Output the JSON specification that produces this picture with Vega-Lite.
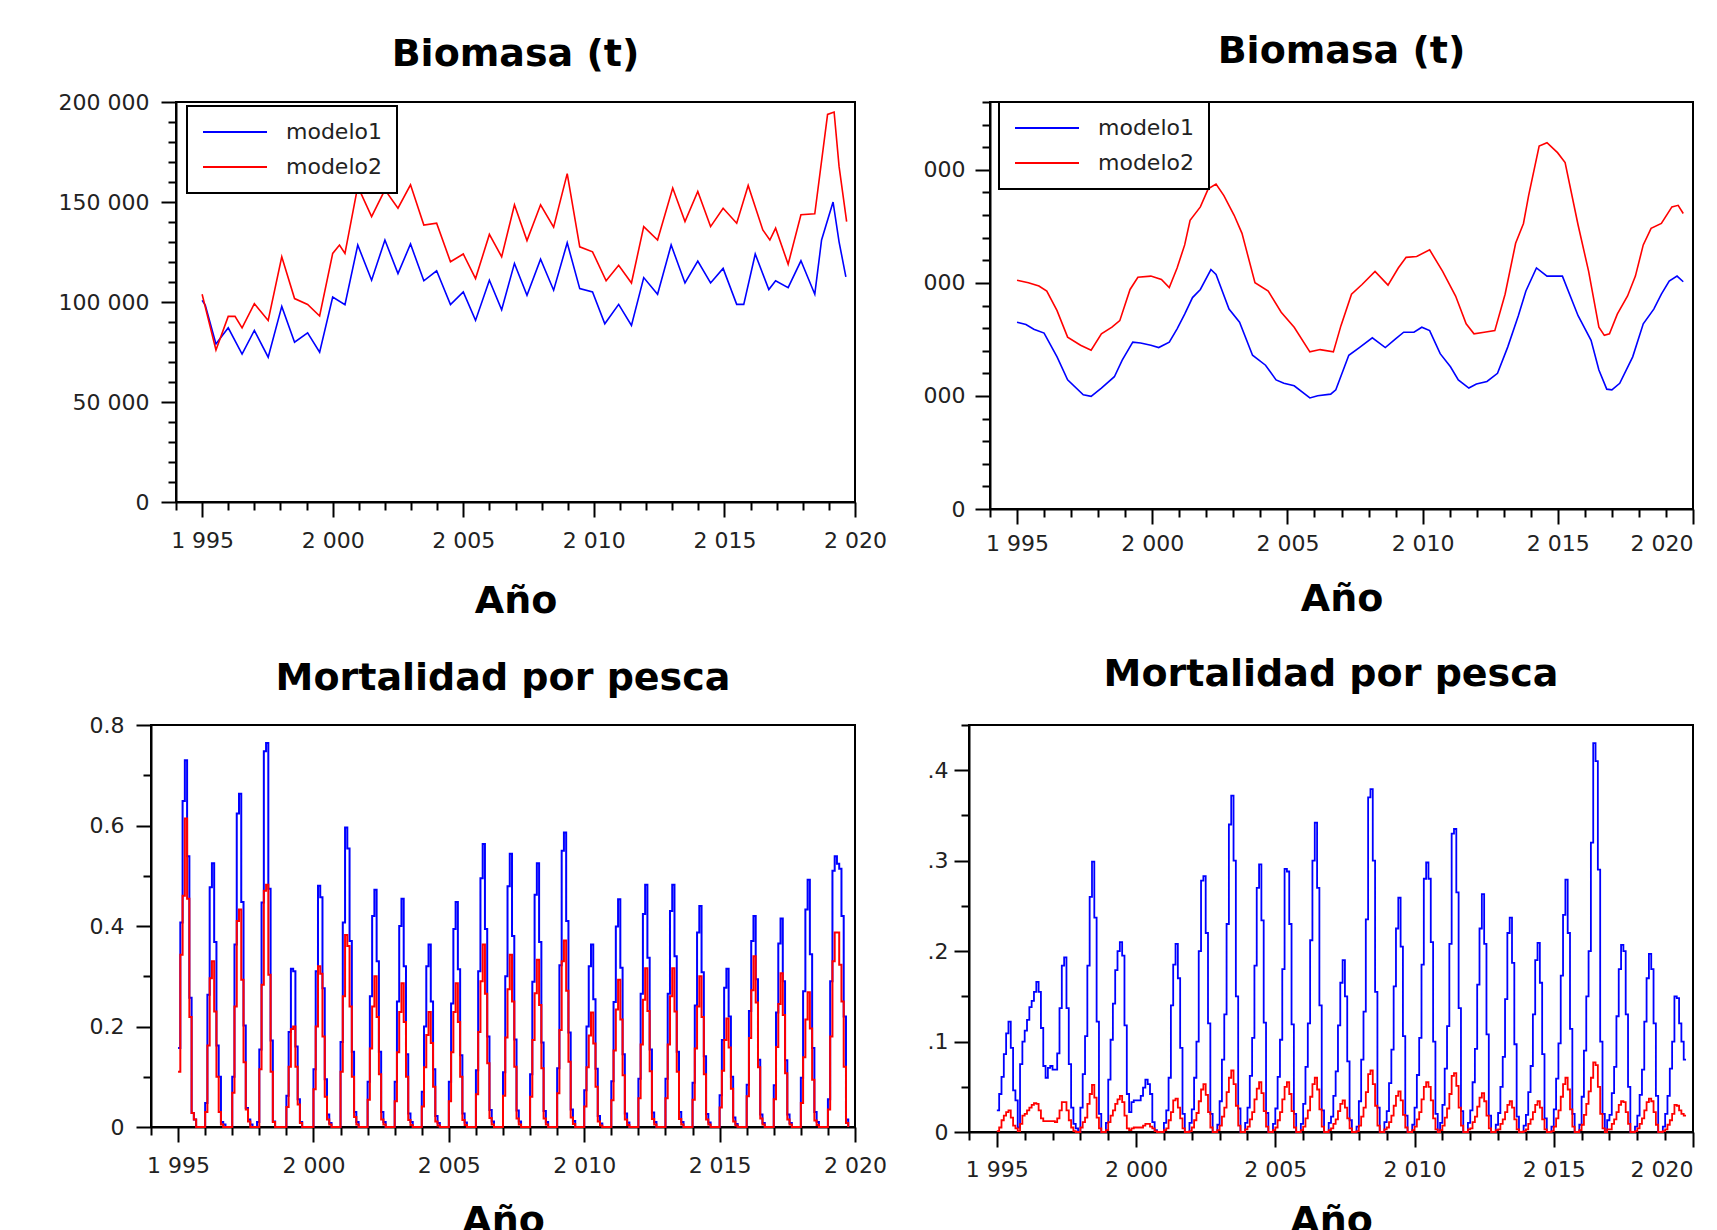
{
"$schema": "https://vega.github.io/schema/vega-lite/v6.json",
"padding": {"left": 44, "top": 32, "right": 25, "bottom": 0},
"background": "white",
"config": {
  "view": {"stroke": "black", "strokeWidth": 2},
  "font": "DejaVu Sans",
  "axis": {"labelFont": "DejaVu Sans", "labelFontSize": 22, "labelColor": "#222222", "titleFont": "DejaVu Sans", "titleFontSize": 38, "titleFontWeight": "bold", "titleColor": "black", "domainColor": "black", "domainWidth": 2, "tickColor": "black", "tickWidth": 2, "grid": false, "labelOverlap": false, "labelFlush": false},
  "title": {"font": "DejaVu Sans", "fontSize": 38, "fontWeight": "bold", "color": "black", "baseline": "alphabetic", "anchor": "middle", "frame": "group"},
  "legend": {"strokeColor": "black", "strokeWidth": 2, "fillColor": "white", "padding": 15, "symbolType": "stroke", "symbolSize": 4096, "symbolStrokeWidth": 2, "clipHeight": 22, "labelFont": "DejaVu Sans", "labelFontSize": 22, "labelColor": "#222222", "labelOffset": 18, "rowPadding": 13, "cornerRadius": 0}
},
"datasets": {
"tl": [
{"t":1995,"s":"modelo1","v":100800},{"t":1995.12,"s":"modelo1","v":98500},{"t":1995.53,"s":"modelo1","v":79000},{"t":1996,"s":"modelo1","v":87100},{"t":1996.53,"s":"modelo1","v":74000},{"t":1997,"s":"modelo1","v":85800},{"t":1997.53,"s":"modelo1","v":72400},{"t":1998.05,"s":"modelo1","v":97800},{"t":1998.54,"s":"modelo1","v":79900},{"t":1999.04,"s":"modelo1","v":84600},{"t":1999.5,"s":"modelo1","v":74900},{"t":2000,"s":"modelo1","v":102500},{"t":2000.47,"s":"modelo1","v":98700},{"t":2000.96,"s":"modelo1","v":128500},{"t":2001.49,"s":"modelo1","v":110900},{"t":2002,"s":"modelo1","v":131000},{"t":2002.5,"s":"modelo1","v":114200},{"t":2002.98,"s":"modelo1","v":129000},{"t":2003.49,"s":"modelo1","v":110600},{"t":2003.98,"s":"modelo1","v":115600},{"t":2004.51,"s":"modelo1","v":98700},{"t":2005,"s":"modelo1","v":105000},{"t":2005.47,"s":"modelo1","v":90800},{"t":2006,"s":"modelo1","v":110900},{"t":2006.47,"s":"modelo1","v":96100},{"t":2006.96,"s":"modelo1","v":119300},{"t":2007.44,"s":"modelo1","v":103400},{"t":2007.96,"s":"modelo1","v":121400},{"t":2008.46,"s":"modelo1","v":105900},{"t":2008.98,"s":"modelo1","v":129600},{"t":2009.46,"s":"modelo1","v":106700},{"t":2009.95,"s":"modelo1","v":105000},{"t":2010.42,"s":"modelo1","v":89100},{"t":2010.95,"s":"modelo1","v":98800},{"t":2011.44,"s":"modelo1","v":88300},{"t":2011.91,"s":"modelo1","v":112200},{"t":2012.44,"s":"modelo1","v":103900},{"t":2012.96,"s":"modelo1","v":128500},{"t":2013.49,"s":"modelo1","v":109500},{"t":2013.98,"s":"modelo1","v":120400},{"t":2014.47,"s":"modelo1","v":109500},{"t":2014.95,"s":"modelo1","v":116800},{"t":2015.47,"s":"modelo1","v":98800},{"t":2015.74,"s":"modelo1","v":98800},{"t":2016.18,"s":"modelo1","v":124000},{"t":2016.7,"s":"modelo1","v":106200},{"t":2016.96,"s":"modelo1","v":110600},{"t":2017.44,"s":"modelo1","v":107200},{"t":2017.93,"s":"modelo1","v":120600},{"t":2018.46,"s":"modelo1","v":103900},{"t":2018.72,"s":"modelo1","v":131000},{"t":2019.16,"s":"modelo1","v":150000},{"t":2019.39,"s":"modelo1","v":130100},{"t":2019.65,"s":"modelo1","v":112600},
{"t":1995,"s":"modelo2","v":103900},{"t":1995.53,"s":"modelo2","v":76000},{"t":1996,"s":"modelo2","v":92800},{"t":1996.26,"s":"modelo2","v":92800},{"t":1996.53,"s":"modelo2","v":87100},{"t":1997,"s":"modelo2","v":99200},{"t":1997.53,"s":"modelo2","v":90800},{"t":1998.05,"s":"modelo2","v":122600},{"t":1998.54,"s":"modelo2","v":101700},{"t":1999.04,"s":"modelo2","v":98800},{"t":1999.5,"s":"modelo2","v":93000},{"t":2000,"s":"modelo2","v":124300},{"t":2000.26,"s":"modelo2","v":128500},{"t":2000.47,"s":"modelo2","v":124300},{"t":2000.96,"s":"modelo2","v":157800},{"t":2001.49,"s":"modelo2","v":142700},{"t":2002,"s":"modelo2","v":156100},{"t":2002.5,"s":"modelo2","v":146900},{"t":2002.98,"s":"modelo2","v":158600},{"t":2003.49,"s":"modelo2","v":138500},{"t":2003.98,"s":"modelo2","v":139400},{"t":2004.51,"s":"modelo2","v":120100},{"t":2005,"s":"modelo2","v":124000},{"t":2005.47,"s":"modelo2","v":111700},{"t":2006,"s":"modelo2","v":133800},{"t":2006.47,"s":"modelo2","v":122600},{"t":2006.96,"s":"modelo2","v":148600},{"t":2007.44,"s":"modelo2","v":130700},{"t":2007.96,"s":"modelo2","v":148600},{"t":2008.46,"s":"modelo2","v":137400},{"t":2008.98,"s":"modelo2","v":164200},{"t":2009.46,"s":"modelo2","v":127600},{"t":2009.95,"s":"modelo2","v":125100},{"t":2010.47,"s":"modelo2","v":110600},{"t":2010.95,"s":"modelo2","v":118400},{"t":2011.44,"s":"modelo2","v":109500},{"t":2011.91,"s":"modelo2","v":137700},{"t":2012.44,"s":"modelo2","v":131000},{"t":2013.02,"s":"modelo2","v":157000},{"t":2013.49,"s":"modelo2","v":140200},{"t":2013.98,"s":"modelo2","v":155300},{"t":2014.47,"s":"modelo2","v":137700},{"t":2014.95,"s":"modelo2","v":146900},{"t":2015.47,"s":"modelo2","v":139400},{"t":2015.91,"s":"modelo2","v":158300},{"t":2016.47,"s":"modelo2","v":136000},{"t":2016.74,"s":"modelo2","v":131000},{"t":2016.96,"s":"modelo2","v":136900},{"t":2017.44,"s":"modelo2","v":118900},{"t":2017.93,"s":"modelo2","v":143600},{"t":2018.46,"s":"modelo2","v":144100},{"t":2018.95,"s":"modelo2","v":193800},{"t":2019.2,"s":"modelo2","v":195000},{"t":2019.39,"s":"modelo2","v":167800},{"t":2019.68,"s":"modelo2","v":140200}
],
"tr": [
{"t":1995,"s":"modelo1","v":82600},{"t":1995.33,"s":"modelo1","v":81600},{"t":1995.62,"s":"modelo1","v":79500},{"t":1996,"s":"modelo1","v":77800},{"t":1996.48,"s":"modelo1","v":67300},{"t":1996.87,"s":"modelo1","v":57100},{"t":1997.45,"s":"modelo1","v":50500},{"t":1997.74,"s":"modelo1","v":49800},{"t":1998.12,"s":"modelo1","v":53500},{"t":1998.6,"s":"modelo1","v":58500},{"t":1998.89,"s":"modelo1","v":65800},{"t":1999.28,"s":"modelo1","v":73800},{"t":1999.57,"s":"modelo1","v":73400},{"t":1999.95,"s":"modelo1","v":72400},{"t":2000.24,"s":"modelo1","v":71400},{"t":2000.63,"s":"modelo1","v":73800},{"t":2000.92,"s":"modelo1","v":79700},{"t":2001.2,"s":"modelo1","v":86200},{"t":2001.49,"s":"modelo1","v":93500},{"t":2001.78,"s":"modelo1","v":97100},{"t":2002.17,"s":"modelo1","v":105900},{"t":2002.36,"s":"modelo1","v":103700},{"t":2002.84,"s":"modelo1","v":88400},{"t":2003.23,"s":"modelo1","v":82600},{"t":2003.71,"s":"modelo1","v":68000},{"t":2004.19,"s":"modelo1","v":63600},{"t":2004.58,"s":"modelo1","v":57100},{"t":2004.87,"s":"modelo1","v":55600},{"t":2005.25,"s":"modelo1","v":54500},{"t":2005.83,"s":"modelo1","v":49100},{"t":2006.12,"s":"modelo1","v":50100},{"t":2006.6,"s":"modelo1","v":50800},{"t":2006.79,"s":"modelo1","v":52700},{"t":2007.27,"s":"modelo1","v":68000},{"t":2007.66,"s":"modelo1","v":71400},{"t":2008.14,"s":"modelo1","v":75700},{"t":2008.62,"s":"modelo1","v":71400},{"t":2009.01,"s":"modelo1","v":75300},{"t":2009.3,"s":"modelo1","v":78200},{"t":2009.68,"s":"modelo1","v":78200},{"t":2009.97,"s":"modelo1","v":80400},{"t":2010.26,"s":"modelo1","v":78900},{"t":2010.65,"s":"modelo1","v":68700},{"t":2011.03,"s":"modelo1","v":62900},{"t":2011.32,"s":"modelo1","v":57100},{"t":2011.71,"s":"modelo1","v":53500},{"t":2011.99,"s":"modelo1","v":55300},{"t":2012.38,"s":"modelo1","v":56400},{"t":2012.77,"s":"modelo1","v":60000},{"t":2013.15,"s":"modelo1","v":71700},{"t":2013.54,"s":"modelo1","v":85500},{"t":2013.82,"s":"modelo1","v":96400},{"t":2014.21,"s":"modelo1","v":106600},{"t":2014.6,"s":"modelo1","v":103000},{"t":2015.17,"s":"modelo1","v":103000},{"t":2015.75,"s":"modelo1","v":85500},{"t":2016.23,"s":"modelo1","v":74600},{"t":2016.52,"s":"modelo1","v":61500},{"t":2016.81,"s":"modelo1","v":53000},{"t":2017,"s":"modelo1","v":52700},{"t":2017.29,"s":"modelo1","v":55600},{"t":2017.77,"s":"modelo1","v":67300},{"t":2018.16,"s":"modelo1","v":81900},{"t":2018.55,"s":"modelo1","v":88400},{"t":2018.83,"s":"modelo1","v":95000},{"t":2019.12,"s":"modelo1","v":100800},{"t":2019.41,"s":"modelo1","v":103000},{"t":2019.64,"s":"modelo1","v":100500},
{"t":1995,"s":"modelo2","v":101200},{"t":1995.42,"s":"modelo2","v":100100},{"t":1995.81,"s":"modelo2","v":98600},{"t":1996.1,"s":"modelo2","v":96400},{"t":1996.48,"s":"modelo2","v":87700},{"t":1996.87,"s":"modelo2","v":76000},{"t":1997.35,"s":"modelo2","v":72400},{"t":1997.74,"s":"modelo2","v":70200},{"t":1998.12,"s":"modelo2","v":77500},{"t":1998.51,"s":"modelo2","v":80400},{"t":1998.8,"s":"modelo2","v":83300},{"t":1999.18,"s":"modelo2","v":97100},{"t":1999.47,"s":"modelo2","v":102500},{"t":1999.95,"s":"modelo2","v":103000},{"t":2000.34,"s":"modelo2","v":101500},{"t":2000.63,"s":"modelo2","v":97900},{"t":2000.92,"s":"modelo2","v":106600},{"t":2001.2,"s":"modelo2","v":116800},{"t":2001.4,"s":"modelo2","v":127700},{"t":2001.78,"s":"modelo2","v":133600},{"t":2002.07,"s":"modelo2","v":141600},{"t":2002.36,"s":"modelo2","v":143700},{"t":2002.65,"s":"modelo2","v":138600},{"t":2003.03,"s":"modelo2","v":129900},{"t":2003.32,"s":"modelo2","v":121900},{"t":2003.8,"s":"modelo2","v":100100},{"t":2004.29,"s":"modelo2","v":96400},{"t":2004.77,"s":"modelo2","v":87000},{"t":2005.25,"s":"modelo2","v":80400},{"t":2005.83,"s":"modelo2","v":69500},{"t":2006.21,"s":"modelo2","v":70500},{"t":2006.7,"s":"modelo2","v":69500},{"t":2006.98,"s":"modelo2","v":81100},{"t":2007.37,"s":"modelo2","v":95000},{"t":2007.76,"s":"modelo2","v":99300},{"t":2008.24,"s":"modelo2","v":105100},{"t":2008.72,"s":"modelo2","v":99000},{"t":2009.1,"s":"modelo2","v":106600},{"t":2009.39,"s":"modelo2","v":111300},{"t":2009.78,"s":"modelo2","v":111700},{"t":2010.26,"s":"modelo2","v":114600},{"t":2010.74,"s":"modelo2","v":105100},{"t":2011.22,"s":"modelo2","v":94200},{"t":2011.61,"s":"modelo2","v":81900},{"t":2011.9,"s":"modelo2","v":77500},{"t":2012.28,"s":"modelo2","v":78200},{"t":2012.67,"s":"modelo2","v":78900},{"t":2013.05,"s":"modelo2","v":95000},{"t":2013.44,"s":"modelo2","v":117500},{"t":2013.73,"s":"modelo2","v":126300},{"t":2013.92,"s":"modelo2","v":138600},{"t":2014.31,"s":"modelo2","v":160500},{"t":2014.6,"s":"modelo2","v":162000},{"t":2014.99,"s":"modelo2","v":157600},{"t":2015.27,"s":"modelo2","v":153200},{"t":2015.75,"s":"modelo2","v":125600},{"t":2016.14,"s":"modelo2","v":105100},{"t":2016.52,"s":"modelo2","v":80400},{"t":2016.72,"s":"modelo2","v":76800},{"t":2016.91,"s":"modelo2","v":77500},{"t":2017.2,"s":"modelo2","v":86200},{"t":2017.58,"s":"modelo2","v":94200},{"t":2017.87,"s":"modelo2","v":103000},{"t":2018.16,"s":"modelo2","v":116800},{"t":2018.45,"s":"modelo2","v":124100},{"t":2018.83,"s":"modelo2","v":126300},{"t":2019.22,"s":"modelo2","v":133600},{"t":2019.45,"s":"modelo2","v":134300},{"t":2019.64,"s":"modelo2","v":130700}
],
"bm": [
{"t":1995,"a":0.157,"b":0.11,"c":0.024,"d":0.001},{"t":1995.083,"a":0.407,"b":0.343,"c":0.042,"d":0.005},{"t":1995.167,"a":0.649,"b":0.46,"c":0.061,"d":0.013},{"t":1995.25,"a":0.73,"b":0.614,"c":0.086,"d":0.018},{"t":1995.333,"a":0.539,"b":0.454,"c":0.109,"d":0.022},{"t":1995.417,"a":0.257,"b":0.219,"c":0.122,"d":0.024},{"t":1995.5,"a":0.028,"b":0.028,"c":0.093,"d":0.016},{"t":1995.583,"a":0.015,"b":0.015,"c":0.046,"d":0.007},{"t":1995.667,"a":0,"b":0,"c":0.035,"d":0.004},{"t":1995.75,"a":0,"b":0,"c":0.005,"d":0.001},{"t":1995.833,"a":0,"b":0,"c":0.075,"d":0.009},{"t":1995.917,"a":0,"b":0,"c":0.1,"d":0.018},
{"t":1996,"a":0.048,"b":0.03,"c":0.112,"d":0.02},{"t":1996.083,"a":0.263,"b":0.162,"c":0.124,"d":0.024},{"t":1996.167,"a":0.477,"b":0.296,"c":0.138,"d":0.027},{"t":1996.25,"a":0.525,"b":0.33,"c":0.145,"d":0.03},{"t":1996.333,"a":0.368,"b":0.23,"c":0.155,"d":0.032},{"t":1996.417,"a":0.162,"b":0.1,"c":0.166,"d":0.031},{"t":1996.5,"a":0.1,"b":0.03,"c":0.155,"d":0.024},{"t":1996.583,"a":0.01,"b":0.005,"c":0.115,"d":0.015},{"t":1996.667,"a":0.005,"b":0,"c":0.073,"d":0.012},{"t":1996.75,"a":0,"b":0,"c":0.06,"d":0.012},{"t":1996.833,"a":0,"b":0,"c":0.071,"d":0.012},{"t":1996.917,"a":0,"b":0,"c":0.073,"d":0.012},
{"t":1997,"a":0.1,"b":0.068,"c":0.069,"d":0.012},{"t":1997.083,"a":0.363,"b":0.24,"c":0.069,"d":0.011},{"t":1997.167,"a":0.624,"b":0.41,"c":0.087,"d":0.015},{"t":1997.25,"a":0.663,"b":0.433,"c":0.137,"d":0.024},{"t":1997.333,"a":0.448,"b":0.293,"c":0.184,"d":0.033},{"t":1997.417,"a":0.202,"b":0.129,"c":0.193,"d":0.033},{"t":1997.5,"a":0.038,"b":0.035,"c":0.137,"d":0.024},{"t":1997.583,"a":0.015,"b":0.011,"c":0.075,"d":0.013},{"t":1997.667,"a":0.005,"b":0,"c":0.027,"d":0.005},{"t":1997.75,"a":0,"b":0,"c":0.009,"d":0.001},{"t":1997.833,"a":0,"b":0,"c":0.004,"d":0},{"t":1997.917,"a":0.01,"b":0,"c":0,"d":0},
{"t":1998,"a":0.154,"b":0.115,"c":0.027,"d":0.005},{"t":1998.083,"a":0.447,"b":0.283,"c":0.064,"d":0.011},{"t":1998.167,"a":0.748,"b":0.47,"c":0.106,"d":0.016},{"t":1998.25,"a":0.764,"b":0.482,"c":0.184,"d":0.031},{"t":1998.333,"a":0.474,"b":0.303,"c":0.26,"d":0.042},{"t":1998.417,"a":0.172,"b":0.11,"c":0.299,"d":0.052},{"t":1998.5,"a":0.011,"b":0.01,"c":0.237,"d":0.038},{"t":1998.583,"a":0,"b":0,"c":0.122,"d":0.016},{"t":1998.667,"a":0,"b":0,"c":0.02,"d":0.004},{"t":1998.75,"a":0,"b":0,"c":0,"d":0},{"t":1998.833,"a":0,"b":0,"c":0,"d":0},{"t":1998.917,"a":0,"b":0,"c":0.01,"d":0.002},
{"t":1999,"a":0.062,"b":0.04,"c":0.058,"d":0.011},{"t":1999.083,"a":0.189,"b":0.12,"c":0.102,"d":0.018},{"t":1999.167,"a":0.315,"b":0.195,"c":0.142,"d":0.024},{"t":1999.25,"a":0.31,"b":0.2,"c":0.179,"d":0.031},{"t":1999.333,"a":0.16,"b":0.12,"c":0.2,"d":0.036},{"t":1999.417,"a":0.055,"b":0.045,"c":0.21,"d":0.04},{"t":1999.5,"a":0.01,"b":0.008,"c":0.195,"d":0.033},{"t":1999.583,"a":0,"b":0,"c":0.118,"d":0.018},{"t":1999.667,"a":0,"b":0,"c":0.042,"d":0.004},{"t":1999.75,"a":0,"b":0,"c":0.022,"d":0.002},{"t":1999.833,"a":0,"b":0,"c":0.033,"d":0.004},{"t":1999.917,"a":0,"b":0,"c":0.035,"d":0.005},
{"t":2000,"a":0.115,"b":0.075,"c":0.035,"d":0.005},{"t":2000.083,"a":0.31,"b":0.2,"c":0.035,"d":0.005},{"t":2000.167,"a":0.48,"b":0.32,"c":0.04,"d":0.005},{"t":2000.25,"a":0.457,"b":0.305,"c":0.049,"d":0.007},{"t":2000.333,"a":0.276,"b":0.18,"c":0.058,"d":0.009},{"t":2000.417,"a":0.095,"b":0.06,"c":0.053,"d":0.009},{"t":2000.5,"a":0.025,"b":0.015,"c":0.042,"d":0.006},{"t":2000.583,"a":0.008,"b":0.005,"c":0.011,"d":0.004},{"t":2000.667,"a":0,"b":0,"c":0.002,"d":0.001},{"t":2000.75,"a":0,"b":0,"c":0,"d":0},{"t":2000.833,"a":0,"b":0,"c":0,"d":0},{"t":2000.917,"a":0,"b":0,"c":0,"d":0},
{"t":2001,"a":0.169,"b":0.11,"c":0.01,"d":0.002},{"t":2001.083,"a":0.407,"b":0.26,"c":0.024,"d":0.004},{"t":2001.167,"a":0.596,"b":0.382,"c":0.06,"d":0.013},{"t":2001.25,"a":0.554,"b":0.36,"c":0.14,"d":0.022},{"t":2001.333,"a":0.37,"b":0.24,"c":0.185,"d":0.035},{"t":2001.417,"a":0.15,"b":0.1,"c":0.208,"d":0.037},{"t":2001.5,"a":0.03,"b":0.02,"c":0.17,"d":0.027},{"t":2001.583,"a":0.01,"b":0.005,"c":0.093,"d":0.015},{"t":2001.667,"a":0,"b":0,"c":0.02,"d":0.004},{"t":2001.75,"a":0,"b":0,"c":0,"d":0},{"t":2001.833,"a":0,"b":0,"c":0,"d":0},{"t":2001.917,"a":0,"b":0,"c":0.01,"d":0.001},
{"t":2002,"a":0.09,"b":0.054,"c":0.025,"d":0.005},{"t":2002.083,"a":0.26,"b":0.156,"c":0.06,"d":0.013},{"t":2002.167,"a":0.42,"b":0.24,"c":0.1,"d":0.021},{"t":2002.25,"a":0.472,"b":0.3,"c":0.2,"d":0.034},{"t":2002.333,"a":0.33,"b":0.219,"c":0.278,"d":0.047},{"t":2002.417,"a":0.15,"b":0.105,"c":0.283,"d":0.053},{"t":2002.5,"a":0.03,"b":0.015,"c":0.22,"d":0.041},{"t":2002.583,"a":0.01,"b":0.005,"c":0.12,"d":0.022},{"t":2002.667,"a":0,"b":0,"c":0.02,"d":0.005},{"t":2002.75,"a":0,"b":0,"c":0,"d":0},{"t":2002.833,"a":0,"b":0,"c":0,"d":0},{"t":2002.917,"a":0,"b":0,"c":0.008,"d":0.002},
{"t":2003,"a":0.09,"b":0.051,"c":0.034,"d":0.007},{"t":2003.083,"a":0.25,"b":0.149,"c":0.08,"d":0.017},{"t":2003.167,"a":0.4,"b":0.229,"c":0.13,"d":0.027},{"t":2003.25,"a":0.454,"b":0.286,"c":0.23,"d":0.044},{"t":2003.333,"a":0.32,"b":0.209,"c":0.34,"d":0.06},{"t":2003.417,"a":0.145,"b":0.1,"c":0.372,"d":0.068},{"t":2003.5,"a":0.027,"b":0.014,"c":0.3,"d":0.053},{"t":2003.583,"a":0.01,"b":0.004,"c":0.15,"d":0.029},{"t":2003.667,"a":0,"b":0,"c":0.026,"d":0.007},{"t":2003.75,"a":0,"b":0,"c":0,"d":0},{"t":2003.833,"a":0,"b":0,"c":0,"d":0},{"t":2003.917,"a":0,"b":0,"c":0.01,"d":0.003},
{"t":2004,"a":0.07,"b":0.041,"c":0.027,"d":0.006},{"t":2004.083,"a":0.2,"b":0.119,"c":0.062,"d":0.014},{"t":2004.167,"a":0.32,"b":0.183,"c":0.104,"d":0.022},{"t":2004.25,"a":0.363,"b":0.229,"c":0.184,"d":0.036},{"t":2004.333,"a":0.25,"b":0.167,"c":0.27,"d":0.048},{"t":2004.417,"a":0.115,"b":0.08,"c":0.296,"d":0.055},{"t":2004.5,"a":0.022,"b":0.011,"c":0.234,"d":0.043},{"t":2004.583,"a":0.008,"b":0.003,"c":0.121,"d":0.023},{"t":2004.667,"a":0,"b":0,"c":0.021,"d":0.006},{"t":2004.75,"a":0,"b":0,"c":0,"d":0},{"t":2004.833,"a":0,"b":0,"c":0,"d":0},{"t":2004.917,"a":0,"b":0,"c":0.009,"d":0.002},
{"t":2005,"a":0.09,"b":0.051,"c":0.026,"d":0.005},{"t":2005.083,"a":0.246,"b":0.149,"c":0.061,"d":0.013},{"t":2005.167,"a":0.394,"b":0.229,"c":0.102,"d":0.022},{"t":2005.25,"a":0.448,"b":0.286,"c":0.18,"d":0.036},{"t":2005.333,"a":0.314,"b":0.209,"c":0.291,"d":0.05},{"t":2005.417,"a":0.143,"b":0.1,"c":0.288,"d":0.055},{"t":2005.5,"a":0.027,"b":0.014,"c":0.23,"d":0.042},{"t":2005.583,"a":0.009,"b":0.004,"c":0.119,"d":0.023},{"t":2005.667,"a":0,"b":0,"c":0.02,"d":0.005},{"t":2005.75,"a":0,"b":0,"c":0,"d":0},{"t":2005.833,"a":0,"b":0,"c":0,"d":0},{"t":2005.917,"a":0,"b":0,"c":0.009,"d":0.002},
{"t":2006,"a":0.113,"b":0.065,"c":0.031,"d":0.006},{"t":2006.083,"a":0.31,"b":0.189,"c":0.072,"d":0.015},{"t":2006.167,"a":0.495,"b":0.29,"c":0.12,"d":0.024},{"t":2006.25,"a":0.563,"b":0.363,"c":0.212,"d":0.039},{"t":2006.333,"a":0.394,"b":0.265,"c":0.3,"d":0.053},{"t":2006.417,"a":0.18,"b":0.127,"c":0.342,"d":0.06},{"t":2006.5,"a":0.034,"b":0.018,"c":0.27,"d":0.047},{"t":2006.583,"a":0.011,"b":0.005,"c":0.14,"d":0.025},{"t":2006.667,"a":0,"b":0,"c":0.024,"d":0.006},{"t":2006.75,"a":0,"b":0,"c":0,"d":0},{"t":2006.833,"a":0,"b":0,"c":0,"d":0},{"t":2006.917,"a":0,"b":0,"c":0.01,"d":0.002},
{"t":2007,"a":0.109,"b":0.062,"c":0.017,"d":0.004},{"t":2007.083,"a":0.3,"b":0.178,"c":0.04,"d":0.009},{"t":2007.167,"a":0.479,"b":0.274,"c":0.067,"d":0.014},{"t":2007.25,"a":0.544,"b":0.343,"c":0.118,"d":0.023},{"t":2007.333,"a":0.38,"b":0.25,"c":0.165,"d":0.031},{"t":2007.417,"a":0.174,"b":0.12,"c":0.19,"d":0.035},{"t":2007.5,"a":0.033,"b":0.017,"c":0.15,"d":0.027},{"t":2007.583,"a":0.011,"b":0.005,"c":0.078,"d":0.015},{"t":2007.667,"a":0,"b":0,"c":0.013,"d":0.004},{"t":2007.75,"a":0,"b":0,"c":0,"d":0},{"t":2007.833,"a":0,"b":0,"c":0,"d":0},{"t":2007.917,"a":0,"b":0,"c":0.006,"d":0.001},
{"t":2008,"a":0.105,"b":0.06,"c":0.034,"d":0.007},{"t":2008.083,"a":0.289,"b":0.173,"c":0.08,"d":0.017},{"t":2008.167,"a":0.462,"b":0.266,"c":0.133,"d":0.027},{"t":2008.25,"a":0.525,"b":0.333,"c":0.235,"d":0.044},{"t":2008.333,"a":0.368,"b":0.243,"c":0.37,"d":0.064},{"t":2008.417,"a":0.168,"b":0.117,"c":0.379,"d":0.068},{"t":2008.5,"a":0.032,"b":0.017,"c":0.3,"d":0.053},{"t":2008.583,"a":0.01,"b":0.005,"c":0.155,"d":0.029},{"t":2008.667,"a":0,"b":0,"c":0.027,"d":0.007},{"t":2008.75,"a":0,"b":0,"c":0,"d":0},{"t":2008.833,"a":0,"b":0,"c":0,"d":0},{"t":2008.917,"a":0,"b":0,"c":0.011,"d":0.003},
{"t":2009,"a":0.117,"b":0.067,"c":0.023,"d":0.005},{"t":2009.083,"a":0.322,"b":0.193,"c":0.054,"d":0.011},{"t":2009.167,"a":0.55,"b":0.33,"c":0.091,"d":0.018},{"t":2009.25,"a":0.586,"b":0.371,"c":0.161,"d":0.029},{"t":2009.333,"a":0.41,"b":0.271,"c":0.225,"d":0.04},{"t":2009.417,"a":0.188,"b":0.13,"c":0.259,"d":0.045},{"t":2009.5,"a":0.035,"b":0.019,"c":0.205,"d":0.035},{"t":2009.583,"a":0.012,"b":0.006,"c":0.106,"d":0.019},{"t":2009.667,"a":0,"b":0,"c":0.018,"d":0.005},{"t":2009.75,"a":0,"b":0,"c":0,"d":0},{"t":2009.833,"a":0,"b":0,"c":0,"d":0},{"t":2009.917,"a":0,"b":0,"c":0.008,"d":0.002},
{"t":2010,"a":0.073,"b":0.041,"c":0.027,"d":0.006},{"t":2010.083,"a":0.2,"b":0.119,"c":0.063,"d":0.014},{"t":2010.167,"a":0.32,"b":0.182,"c":0.104,"d":0.022},{"t":2010.25,"a":0.363,"b":0.228,"c":0.185,"d":0.036},{"t":2010.333,"a":0.254,"b":0.166,"c":0.28,"d":0.05},{"t":2010.417,"a":0.116,"b":0.08,"c":0.298,"d":0.055},{"t":2010.5,"a":0.022,"b":0.011,"c":0.28,"d":0.05},{"t":2010.583,"a":0.007,"b":0.003,"c":0.21,"d":0.035},{"t":2010.667,"a":0,"b":0,"c":0.1,"d":0.015},{"t":2010.75,"a":0,"b":0,"c":0.02,"d":0.003},{"t":2010.833,"a":0,"b":0,"c":0,"d":0},{"t":2010.917,"a":0,"b":0,"c":0.01,"d":0.002},
{"t":2011,"a":0.091,"b":0.053,"c":0.03,"d":0.007},{"t":2011.083,"a":0.249,"b":0.152,"c":0.07,"d":0.016},{"t":2011.167,"a":0.399,"b":0.234,"c":0.117,"d":0.026},{"t":2011.25,"a":0.453,"b":0.293,"c":0.208,"d":0.042},{"t":2011.333,"a":0.317,"b":0.214,"c":0.33,"d":0.062},{"t":2011.417,"a":0.145,"b":0.103,"c":0.335,"d":0.065},{"t":2011.5,"a":0.027,"b":0.015,"c":0.265,"d":0.051},{"t":2011.583,"a":0.009,"b":0.004,"c":0.137,"d":0.027},{"t":2011.667,"a":0,"b":0,"c":0.023,"d":0.007},{"t":2011.75,"a":0,"b":0,"c":0,"d":0},{"t":2011.833,"a":0,"b":0,"c":0,"d":0},{"t":2011.917,"a":0,"b":0,"c":0.01,"d":0.003},
{"t":2012,"a":0.096,"b":0.057,"c":0.024,"d":0.004},{"t":2012.083,"a":0.265,"b":0.164,"c":0.055,"d":0.011},{"t":2012.167,"a":0.424,"b":0.253,"c":0.092,"d":0.017},{"t":2012.25,"a":0.482,"b":0.316,"c":0.163,"d":0.028},{"t":2012.333,"a":0.337,"b":0.231,"c":0.225,"d":0.038},{"t":2012.417,"a":0.154,"b":0.111,"c":0.263,"d":0.043},{"t":2012.5,"a":0.029,"b":0.016,"c":0.208,"d":0.034},{"t":2012.583,"a":0.01,"b":0.005,"c":0.108,"d":0.018},{"t":2012.667,"a":0,"b":0,"c":0.018,"d":0.004},{"t":2012.75,"a":0,"b":0,"c":0,"d":0},{"t":2012.833,"a":0,"b":0,"c":0,"d":0},{"t":2012.917,"a":0,"b":0,"c":0.008,"d":0.002},
{"t":2013,"a":0.096,"b":0.057,"c":0.021,"d":0.003},{"t":2013.083,"a":0.265,"b":0.164,"c":0.05,"d":0.009},{"t":2013.167,"a":0.43,"b":0.26,"c":0.083,"d":0.014},{"t":2013.25,"a":0.482,"b":0.316,"c":0.147,"d":0.022},{"t":2013.333,"a":0.34,"b":0.23,"c":0.22,"d":0.03},{"t":2013.417,"a":0.15,"b":0.11,"c":0.237,"d":0.034},{"t":2013.5,"a":0.03,"b":0.016,"c":0.187,"d":0.027},{"t":2013.583,"a":0.01,"b":0.005,"c":0.097,"d":0.014},{"t":2013.667,"a":0,"b":0,"c":0.017,"d":0.003},{"t":2013.75,"a":0,"b":0,"c":0,"d":0},{"t":2013.833,"a":0,"b":0,"c":0,"d":0},{"t":2013.917,"a":0,"b":0,"c":0.007,"d":0.001},
{"t":2014,"a":0.088,"b":0.054,"c":0.019,"d":0.003},{"t":2014.083,"a":0.242,"b":0.156,"c":0.044,"d":0.009},{"t":2014.167,"a":0.387,"b":0.24,"c":0.073,"d":0.014},{"t":2014.25,"a":0.44,"b":0.3,"c":0.13,"d":0.022},{"t":2014.333,"a":0.308,"b":0.219,"c":0.19,"d":0.03},{"t":2014.417,"a":0.141,"b":0.105,"c":0.209,"d":0.034},{"t":2014.5,"a":0.026,"b":0.015,"c":0.165,"d":0.027},{"t":2014.583,"a":0.009,"b":0.005,"c":0.086,"d":0.014},{"t":2014.667,"a":0,"b":0,"c":0.015,"d":0.003},{"t":2014.75,"a":0,"b":0,"c":0,"d":0},{"t":2014.833,"a":0,"b":0,"c":0,"d":0},{"t":2014.917,"a":0,"b":0,"c":0.006,"d":0.001},
{"t":2015,"a":0.063,"b":0.039,"c":0.025,"d":0.006},{"t":2015.083,"a":0.173,"b":0.112,"c":0.059,"d":0.015},{"t":2015.167,"a":0.277,"b":0.173,"c":0.098,"d":0.024},{"t":2015.25,"a":0.315,"b":0.216,"c":0.173,"d":0.039},{"t":2015.333,"a":0.22,"b":0.158,"c":0.24,"d":0.053},{"t":2015.417,"a":0.1,"b":0.076,"c":0.279,"d":0.06},{"t":2015.5,"a":0.019,"b":0.011,"c":0.22,"d":0.047},{"t":2015.583,"a":0.006,"b":0.003,"c":0.114,"d":0.025},{"t":2015.667,"a":0,"b":0,"c":0.02,"d":0.006},{"t":2015.75,"a":0,"b":0,"c":0,"d":0},{"t":2015.833,"a":0,"b":0,"c":0,"d":0},{"t":2015.917,"a":0,"b":0,"c":0.008,"d":0.002},
{"t":2016,"a":0.084,"b":0.061,"c":0.039,"d":0.008},{"t":2016.083,"a":0.231,"b":0.177,"c":0.09,"d":0.019},{"t":2016.167,"a":0.37,"b":0.272,"c":0.15,"d":0.031},{"t":2016.25,"a":0.42,"b":0.34,"c":0.2,"d":0.045},{"t":2016.333,"a":0.294,"b":0.248,"c":0.32,"d":0.06},{"t":2016.417,"a":0.134,"b":0.119,"c":0.43,"d":0.077},{"t":2016.5,"a":0.025,"b":0.017,"c":0.41,"d":0.074},{"t":2016.583,"a":0.008,"b":0.005,"c":0.29,"d":0.05},{"t":2016.667,"a":0,"b":0,"c":0.1,"d":0.02},{"t":2016.75,"a":0,"b":0,"c":0.02,"d":0.004},{"t":2016.833,"a":0,"b":0,"c":0,"d":0},{"t":2016.917,"a":0,"b":0,"c":0.013,"d":0.003},
{"t":2017,"a":0.083,"b":0.055,"c":0.019,"d":0.003},{"t":2017.083,"a":0.228,"b":0.159,"c":0.043,"d":0.009},{"t":2017.167,"a":0.365,"b":0.245,"c":0.072,"d":0.014},{"t":2017.25,"a":0.415,"b":0.306,"c":0.128,"d":0.022},{"t":2017.333,"a":0.29,"b":0.223,"c":0.18,"d":0.03},{"t":2017.417,"a":0.133,"b":0.107,"c":0.207,"d":0.034},{"t":2017.5,"a":0.025,"b":0.015,"c":0.2,"d":0.033},{"t":2017.583,"a":0.008,"b":0.005,"c":0.13,"d":0.022},{"t":2017.667,"a":0,"b":0,"c":0.05,"d":0.009},{"t":2017.75,"a":0,"b":0,"c":0,"d":0},{"t":2017.833,"a":0,"b":0,"c":0,"d":0},{"t":2017.917,"a":0,"b":0,"c":0.006,"d":0.001},
{"t":2018,"a":0.098,"b":0.048,"c":0.018,"d":0.004},{"t":2018.083,"a":0.27,"b":0.139,"c":0.041,"d":0.009},{"t":2018.167,"a":0.433,"b":0.214,"c":0.069,"d":0.015},{"t":2018.25,"a":0.492,"b":0.268,"c":0.122,"d":0.024},{"t":2018.333,"a":0.344,"b":0.196,"c":0.17,"d":0.033},{"t":2018.417,"a":0.157,"b":0.094,"c":0.197,"d":0.037},{"t":2018.5,"a":0.03,"b":0.013,"c":0.18,"d":0.034},{"t":2018.583,"a":0.01,"b":0.004,"c":0.12,"d":0.022},{"t":2018.667,"a":0,"b":0,"c":0.04,"d":0.008},{"t":2018.75,"a":0,"b":0,"c":0,"d":0},{"t":2018.833,"a":0,"b":0,"c":0,"d":0},{"t":2018.917,"a":0,"b":0,"c":0.006,"d":0.001},
{"t":2019,"a":0.055,"b":0.035,"c":0.02,"d":0.003},{"t":2019.083,"a":0.29,"b":0.18,"c":0.04,"d":0.008},{"t":2019.167,"a":0.51,"b":0.33,"c":0.07,"d":0.013},{"t":2019.25,"a":0.539,"b":0.387,"c":0.1,"d":0.02},{"t":2019.333,"a":0.524,"b":0.387,"c":0.15,"d":0.03},{"t":2019.417,"a":0.514,"b":0.323,"c":0.148,"d":0.029},{"t":2019.5,"a":0.42,"b":0.25,"c":0.12,"d":0.024},{"t":2019.583,"a":0.22,"b":0.12,"c":0.1,"d":0.02},{"t":2019.667,"a":0.015,"b":0.008,"c":0.08,"d":0.018},{"t":2019.75,"a":0,"b":0,"c":0.08,"d":0.018}
]
},
"columns": 1,
"spacing": 34,
"align": "none",
"resolve": {"scale": {"color": "independent"}},
"concat": [
{
  "hconcat": [
    {
      "width": 1, "height": 1,
      "view": {"stroke": null},
      "data": {"values": []},
      "mark": "point",
      "encoding": {}
    },
    {
      "hconcat": [
        {
          "width": 679, "height": 400,
          "title": {"text": "Biomasa (t)", "offset": 17},
          "data": {"name": "tl"},
          "mark": {"type": "line", "strokeWidth": 1.6},
          "encoding": {
            "x": {"field": "t", "type": "quantitative", "scale": {"domain": [1994, 2020], "nice": false, "zero": false},
              "axis": {"title": "Año", "values": [1994,1995,1996,1997,1998,1999,2000,2001,2002,2003,2004,2005,2006,2007,2008,2009,2010,2011,2012,2013,2014,2015,2016,2017,2018,2019,2020],
                "labelExpr": "datum.value % 5 === 0 ? replace(format(datum.value, ','), ',', ' ') : ''",
                "tickSize": {"condition": {"test": "datum.value % 5 === 0", "value": 15}, "value": 8},
                "labelPadding": 13, "titlePadding": 31}},
            "y": {"field": "v", "type": "quantitative", "scale": {"domain": [0, 200000], "nice": false},
              "axis": {"title": null, "values": [0,10000,20000,30000,40000,50000,60000,70000,80000,90000,100000,110000,120000,130000,140000,150000,160000,170000,180000,190000,200000],
                "labelExpr": "datum.value % 50000 === 0 ? replace(format(datum.value, ','), ',', ' ') : ''",
                "tickSize": {"condition": {"test": "datum.value % 50000 === 0", "value": 15}, "value": 8},
                "labelPadding": 12, "minExtent": 131}},
            "color": {"field": "s", "type": "nominal", "scale": {"domain": ["modelo1", "modelo2"], "range": ["#0000ff", "#ff0000"]},
              "legend": {"title": null, "orient": "none", "legendX": 11, "legendY": 4}}
          }
        },
        {
          "width": 703, "height": 407,
          "title": {"text": "Biomasa (t)", "offset": 20},
          "data": {"name": "tr"},
          "mark": {"type": "line", "strokeWidth": 1.6},
          "encoding": {
            "x": {"field": "t", "type": "quantitative", "scale": {"domain": [1994, 2020], "nice": false, "zero": false},
              "axis": {"title": "Año", "values": [1994,1995,1996,1997,1998,1999,2000,2001,2002,2003,2004,2005,2006,2007,2008,2009,2010,2011,2012,2013,2014,2015,2016,2017,2018,2019,2020],
                "labelExpr": "datum.value % 5 === 0 ? replace(format(datum.value, ','), ',', ' ') : ''",
                "tickSize": {"condition": {"test": "datum.value % 5 === 0", "value": 15}, "value": 8},
                "labelPadding": 9, "titlePadding": 26, "labelFlush": 1}},
            "y": {"field": "v", "type": "quantitative", "scale": {"domain": [0, 180000], "nice": false},
              "axis": {"title": null, "values": [0,10000,20000,30000,40000,50000,60000,70000,80000,90000,100000,110000,120000,130000,140000,150000,160000,170000,180000],
                "labelExpr": "datum.value === 0 ? '0' : (datum.value % 50000 === 0 ? '000' : '')",
                "tickSize": {"condition": {"test": "datum.value % 50000 === 0", "value": 15}, "value": 8},
                "labelPadding": 10}},
            "color": {"field": "s", "type": "nominal", "scale": {"domain": ["modelo1", "modelo2"], "range": ["#0000ff", "#ff0000"]},
              "legend": {"title": null, "orient": "none", "legendX": 9, "legendY": 0}}
          }
        }
      ],
      "resolve": {"scale": {"color": "independent"}},
      "bounds": "flush",
      "spacing": 135
    }
  ],
  "resolve": {"scale": {"color": "independent"}},
  "bounds": "flush",
  "spacing": 24
},
{
  "hconcat": [
    {
      "width": 704, "height": 402,
      "title": {"text": "Mortalidad por pesca", "offset": 16},
      "data": {"name": "bm"},
      "transform": [{"fold": ["a", "b"], "as": ["k", "v"]}],
      "mark": {"type": "line", "interpolate": "step-after", "strokeWidth": 2},
      "encoding": {
        "x": {"field": "t", "type": "quantitative", "scale": {"domain": [1994, 2020], "nice": false, "zero": false},
          "axis": {"title": "Año", "values": [1994,1995,1996,1997,1998,1999,2000,2001,2002,2003,2004,2005,2006,2007,2008,2009,2010,2011,2012,2013,2014,2015,2016,2017,2018,2019,2020],
            "labelExpr": "datum.value % 5 === 0 ? replace(format(datum.value, ','), ',', ' ') : ''",
            "tickSize": {"condition": {"test": "datum.value % 5 === 0", "value": 15}, "value": 8},
            "labelPadding": 13, "titlePadding": 26}},
        "y": {"field": "v", "type": "quantitative", "scale": {"domain": [0, 0.8], "nice": false},
          "axis": {"title": null, "values": [0,0.1,0.2,0.3,0.4,0.5,0.6,0.7,0.8],
            "labelExpr": "round(datum.value*10) % 2 === 0 ? (datum.value === 0 ? '0' : format(datum.value, '.1f')) : ''",
            "tickSize": {"condition": {"test": "round(datum.value*10) % 2 === 0", "value": 15}, "value": 8},
            "labelPadding": 12, "minExtent": 106}},
        "color": {"field": "k", "type": "nominal", "scale": {"domain": ["a", "b"], "range": ["#0000ff", "#ff0000"]}, "legend": null}
      }
    },
    {
      "width": 724, "height": 407,
      "title": {"text": "Mortalidad por pesca", "offset": 20},
      "data": {"name": "bm"},
      "transform": [{"fold": ["c", "d"], "as": ["k", "v"]}],
      "mark": {"type": "line", "interpolate": "step-after", "strokeWidth": 1.8},
      "encoding": {
        "x": {"field": "t", "type": "quantitative", "scale": {"domain": [1994, 2020], "nice": false, "zero": false},
          "axis": {"title": "Año", "values": [1994,1995,1996,1997,1998,1999,2000,2001,2002,2003,2004,2005,2006,2007,2008,2009,2010,2011,2012,2013,2014,2015,2016,2017,2018,2019,2020],
            "labelExpr": "datum.value % 5 === 0 ? replace(format(datum.value, ','), ',', ' ') : ''",
            "tickSize": {"condition": {"test": "datum.value % 5 === 0", "value": 15}, "value": 8},
            "labelPadding": 12, "titlePadding": 22, "labelFlush": 1}},
        "y": {"field": "v", "type": "quantitative", "scale": {"domain": [0, 0.45], "nice": false},
          "axis": {"title": null, "values": [0,0.05,0.1,0.15,0.2,0.25,0.3,0.35,0.4,0.45],
            "labelExpr": "round(datum.value*100) % 10 === 0 ? (datum.value === 0 ? '0' : replace(format(datum.value, '.1f'), '0.', '.')) : ''",
            "tickSize": {"condition": {"test": "round(datum.value*100) % 10 === 0", "value": 15}, "value": 8},
            "labelPadding": 6}},
        "color": {"field": "k", "type": "nominal", "scale": {"domain": ["c", "d"], "range": ["#0000ff", "#ff0000"]}, "legend": null}
      }
    }
  ],
  "resolve": {"scale": {"color": "independent"}},
  "bounds": "flush",
  "spacing": 114
}
]
}
